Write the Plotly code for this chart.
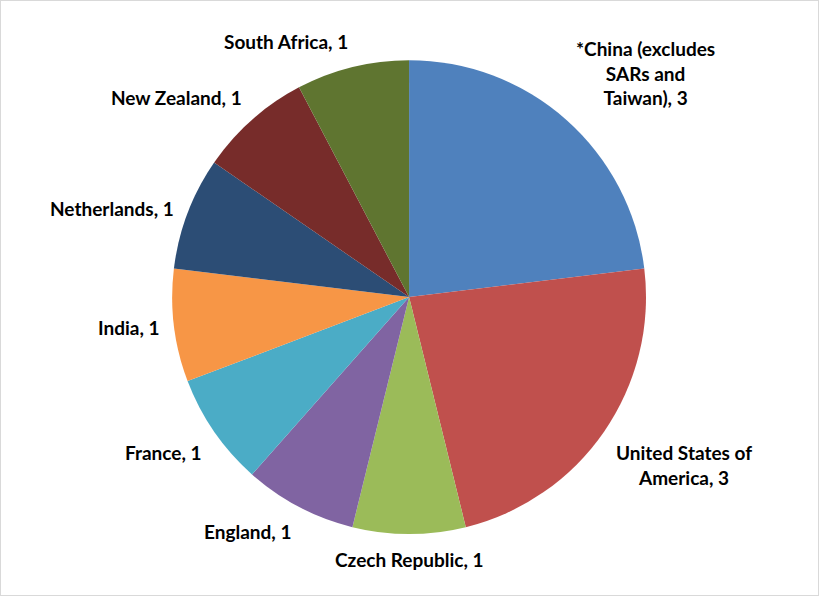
import math
import plotly.graph_objects as go

# countries, clockwise from 12 o'clock
countries = ['*China (excludes<br>SARs and<br>Taiwan)', 'United States of<br>America', 'Czech Republic',
             'England', 'France', 'India', 'Netherlands', 'New Zealand', 'South Africa']
counts = [3, 3, 1, 1, 1, 1, 1, 1, 1]
colors = ['#4F81BD', '#C0504D', '#9BBB59', '#8064A2', '#4BACC6',
          '#F79646', '#2C4D75', '#772C2A', '#5F7530']

W, H = 819, 596
dom_x = [0.21, 0.789]
dom_y = [0.104, 0.899]

fig = go.Figure(go.Pie(
    labels=countries, values=counts, sort=False, direction='clockwise', rotation=0,
    marker=dict(colors=colors, line=dict(width=0)),
    textinfo='none', showlegend=False, hoverinfo='label+value',
    domain=dict(x=dom_x, y=dom_y),
))

# data labels placed outside each slice, like Excel's "best fit"
cx = (dom_x[0] + dom_x[1]) / 2 * W
cy = (1 - (dom_y[0] + dom_y[1]) / 2) * H
r = (dom_y[1] - dom_y[0]) * H / 2 + 12
total = sum(counts)
start = 0
for name, v in zip(countries, counts):
    mid = math.radians((start + v / 2) / total * 360)
    start += v
    s, c = math.sin(mid), math.cos(mid)
    xa = 'left' if s > 0.2 else ('right' if s < -0.2 else 'center')
    ya = 'bottom' if c > 0.4 else ('top' if c < -0.4 else 'middle')
    fig.add_annotation(
        x=(cx + r * s) / W, y=1 - (cy - r * c) / H, xref='paper', yref='paper',
        text=f'{name}, {v}', showarrow=False, xanchor=xa, yanchor=ya, align='center',
        font=dict(family='Lato', size=19, color='black', weight='bold'),
    )

fig.update_layout(
    width=W, height=H,
    margin=dict(l=0, r=0, t=0, b=0),
    paper_bgcolor='white',
    shapes=[dict(type='rect', xref='paper', yref='paper', x0=0, y0=0, x1=1, y1=1,
                 line=dict(color='#D9D9D9', width=2))],
)

fig.write_html("out.html", config={'displayModeBar': False},
               post_script="document.body.style.margin='0';")
